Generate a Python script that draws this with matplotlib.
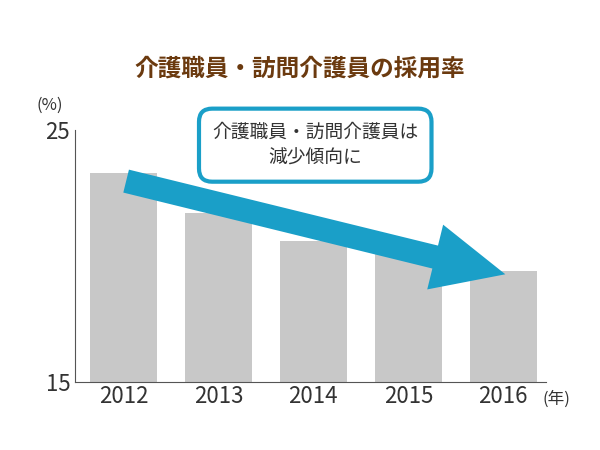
import matplotlib
matplotlib.use("Agg")
import matplotlib.pyplot as plt

plt.rcParams['font.family'] = ['Noto Sans CJK JP', 'DejaVu Sans']

# data
years = ["2012", "2013", "2014", "2015", "2016"]
rates = [23.3, 21.7, 20.6, 20.1, 19.4]
y_ticks = [15, 25]

bar_color = "#c8c8c8"
blue = "#1a9fc8"
brown = "#6b3a0f"

fig = plt.figure(figsize=(6, 4.5), dpi=100)
ax = fig.add_axes([0.125, 0.151, 0.785, 0.56])

xs = list(range(len(years)))
ax.bar(xs, rates, width=0.7, color=bar_color)
ax.set_ylim(15, 25)
ax.set_xlim(-0.51, 4.45)
ax.set_yticks(y_ticks)
ax.set_xticks(xs)
ax.set_xticklabels(years, fontsize=16, color="#333333")
ax.tick_params(axis="y", labelsize=16, colors="#333333", length=0)
ax.tick_params(axis="x", length=0, pad=2)
for s in ["top", "right"]:
    ax.spines[s].set_visible(False)
ax.spines["left"].set_color("#555555")
ax.spines["bottom"].set_color("#555555")

# trend arrow
ax.annotate("", xy=(4.05, 19.25), xytext=(0.0, 23.0),
            arrowprops=dict(arrowstyle="simple,head_width=2.4,head_length=2.6,tail_width=0.85",
                            mutation_scale=20, color=blue, lw=0), annotation_clip=False)

# callout box
ax.text(2.02, 24.4, "介護職員・訪問介護員は\n減少傾向に", ha="center", va="center",
        fontsize=13.5, color="#333333", linespacing=1.3, zorder=5,
        bbox=dict(boxstyle="round,pad=0.7,rounding_size=0.7", fc="white", ec=blue, lw=3))

fig.text(0.5, 0.848, "介護職員・訪問介護員の採用率", ha="center", va="center",
         fontsize=17, fontweight="bold", color=brown)
fig.text(0.06, 0.765, "(%)", fontsize=12, color="#333333", ha="left", va="center")
fig.text(0.905, 0.113, "(年)", fontsize=12, color="#333333", ha="left", va="center")

fig.savefig("out.png", dpi=100)
